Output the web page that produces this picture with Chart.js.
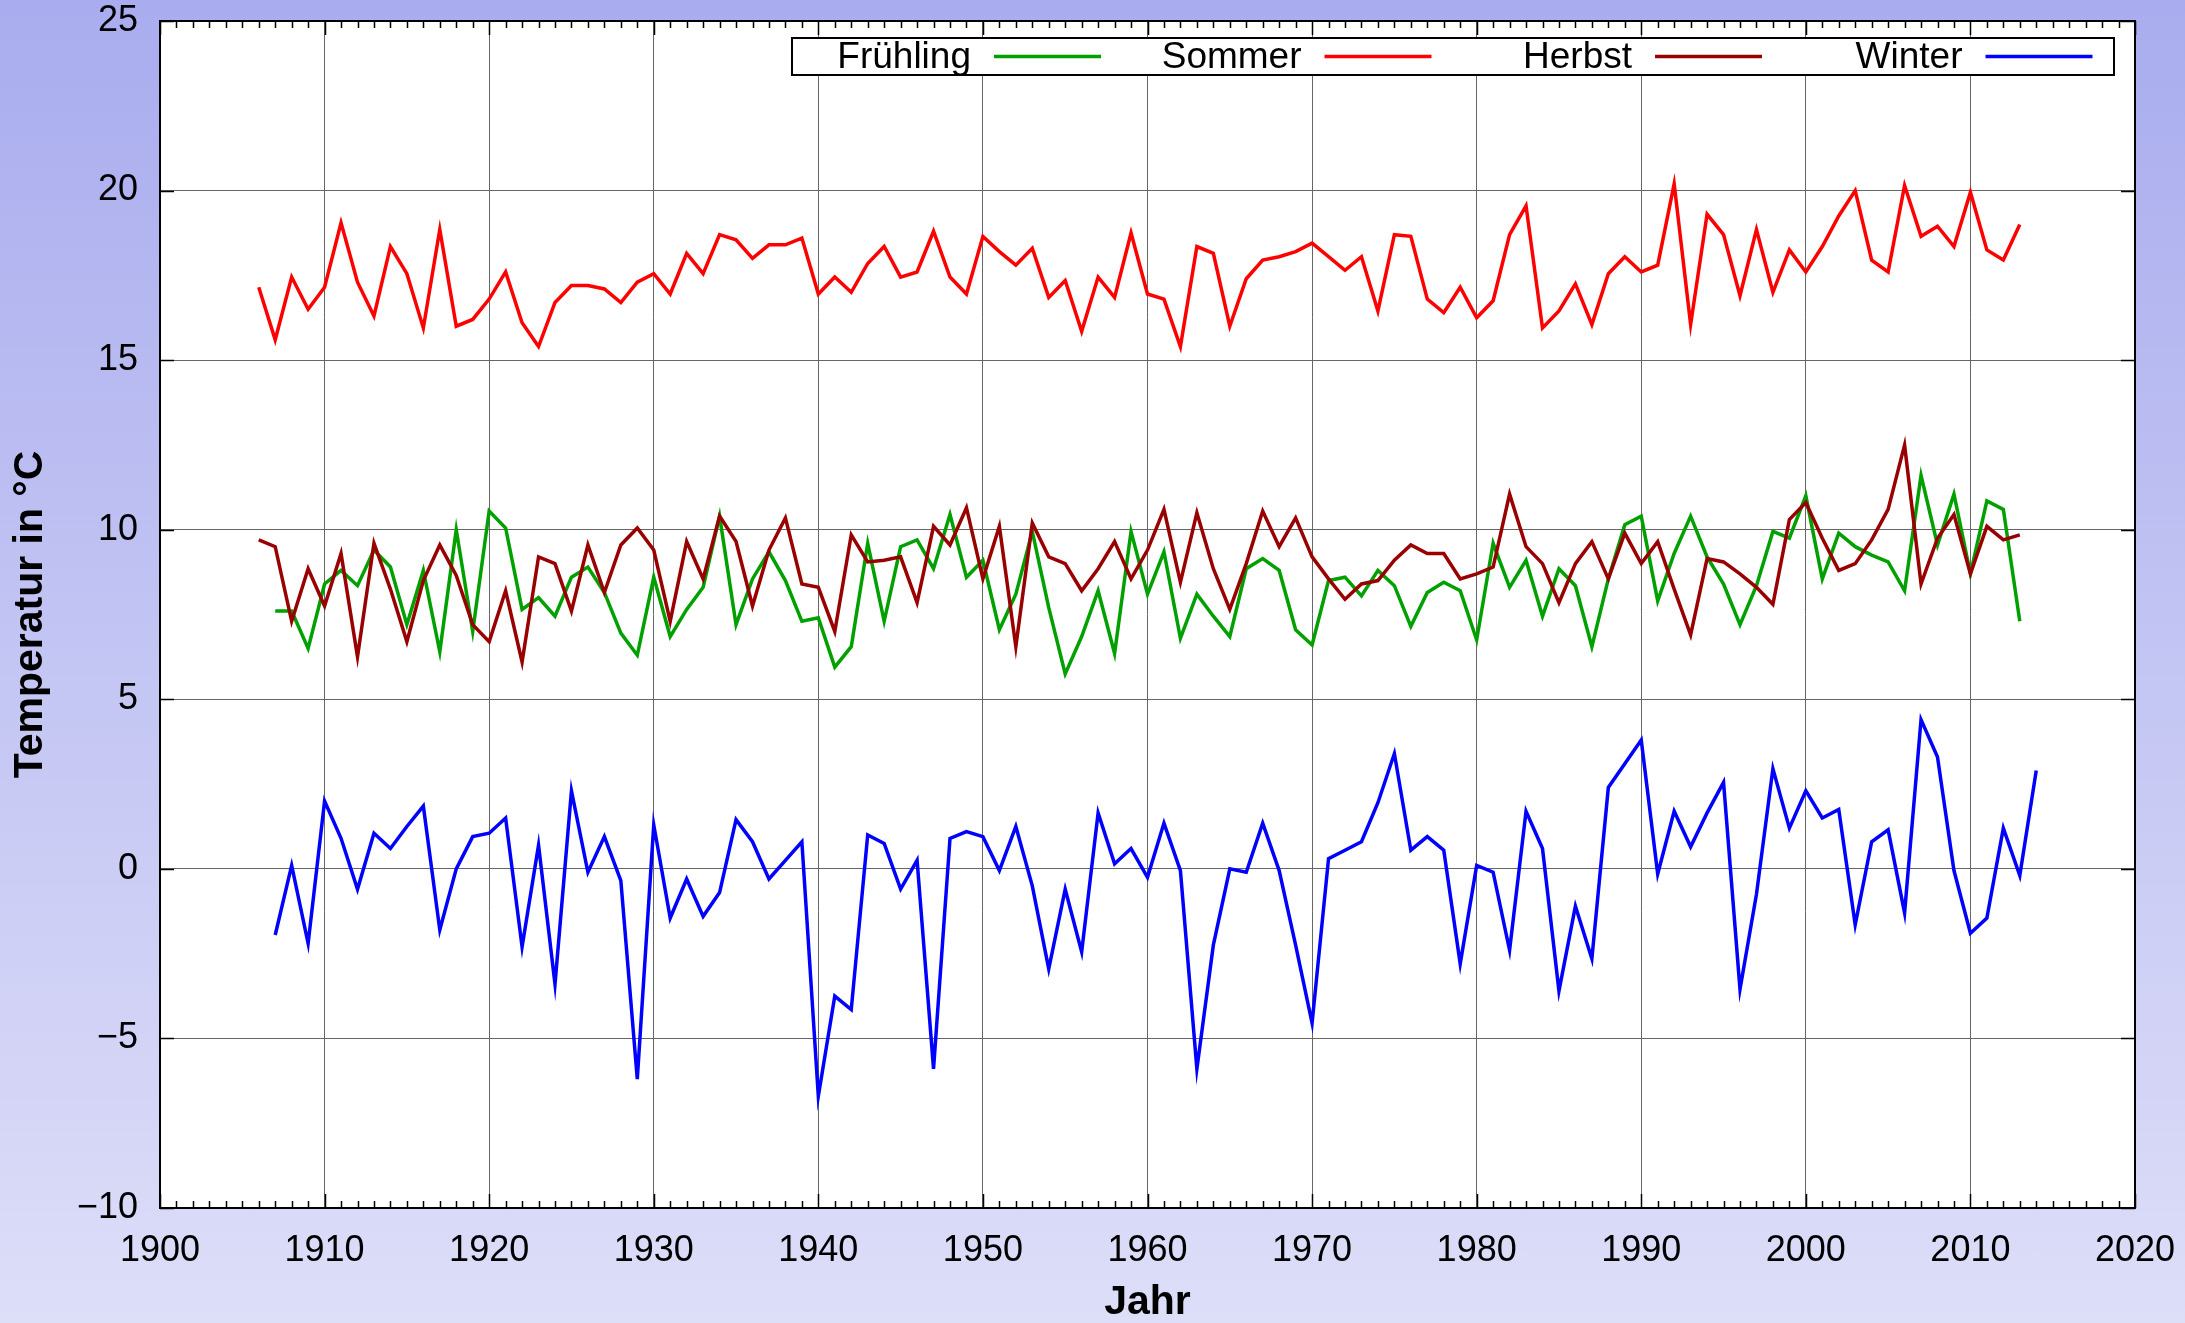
<!DOCTYPE html>
<html lang="de">
<head>
<meta charset="utf-8">
<title>Jahreszeiten-Mitteltemperaturen</title>
<script src="https://cdn.jsdelivr.net/npm/chart.js@4.4.1/dist/chart.umd.min.js"></script>
<style>
  html, body { margin: 0; padding: 0; overflow: hidden; }
  body {
    width: 2185px;
    height: 1323px;
    background: linear-gradient(to bottom, #a9acee 0%, #dddef8 100%);
  }
  #wrap { position: relative; width: 2185px; height: 1323px; }
</style>
</head>
<body>
<div id="wrap"><canvas id="chart"></canvas></div>
<script>
const years = [
  1906, 1907, 1908, 1909, 1910, 1911, 1912, 1913, 1914, 1915, 1916, 1917, 1918, 1919,
  1920, 1921, 1922, 1923, 1924, 1925, 1926, 1927, 1928, 1929, 1930, 1931, 1932, 1933,
  1934, 1935, 1936, 1937, 1938, 1939, 1940, 1941, 1942, 1943, 1944, 1945, 1946, 1947,
  1948, 1949, 1950, 1951, 1952, 1953, 1954, 1955, 1956, 1957, 1958, 1959, 1960, 1961,
  1962, 1963, 1964, 1965, 1966, 1967, 1968, 1969, 1970, 1971, 1972, 1973, 1974, 1975,
  1976, 1977, 1978, 1979, 1980, 1981, 1982, 1983, 1984, 1985, 1986, 1987, 1988, 1989,
  1990, 1991, 1992, 1993, 1994, 1995, 1996, 1997, 1998, 1999, 2000, 2001, 2002, 2003,
  2004, 2005, 2006, 2007, 2008, 2009, 2010, 2011, 2012, 2013, 2014
];

const fruehling = [
  null, 7.6, 7.6, 6.5, 8.4, 8.8, 8.35, 9.4, 8.9, 7.2, 8.8, 6.4, 10.0, 7.0,
  10.55, 10.05, 7.65, 8.0, 7.45, 8.6, 8.9, 8.15, 6.95, 6.3, 8.6, 6.85, 7.65, 8.3,
  10.4, 7.2, 8.55, 9.35, 8.5, 7.3, 7.4, 5.95, 6.55, 9.6, 7.3, 9.5, 9.7, 8.85,
  10.45, 8.6, 9.1, 7.05, 8.1, 9.95, 7.7, 5.75, 6.85, 8.2, 6.35, 9.95, 8.1, 9.35,
  6.8, 8.1, 7.45, 6.85, 8.85, 9.15, 8.8, 7.05, 6.6, 8.5, 8.6, 8.05, 8.8, 8.35,
  7.15, 8.15, 8.45, 8.2, 6.75, 9.6, 8.3, 9.1, 7.45, 8.85, 8.35, 6.55, 8.55, 10.15,
  10.4, 7.9, 9.3, 10.4, 9.2, 8.4, 7.2, 8.35, 9.95, 9.75, 11.0, 8.55, 9.9, 9.5,
  9.25, 9.05, 8.2, 11.6, 9.55, 11.05, 8.7, 10.85, 10.6, 7.3, null
];

const sommer = [
  17.15, 15.6, 17.45, 16.5, 17.15, 19.05, 17.3, 16.3, 18.35, 17.55, 15.95, 18.85, 16.0, 16.2,
  16.8, 17.6, 16.1, 15.4, 16.7, 17.2, 17.2, 17.1, 16.7, 17.3, 17.55, 16.95, 18.15, 17.55,
  18.7, 18.55, 18.0, 18.4, 18.4, 18.6, 16.95, 17.45, 17.0, 17.85, 18.35, 17.45, 17.6, 18.8,
  17.45, 16.95, 18.65, 18.2, 17.8, 18.3, 16.85, 17.35, 15.85, 17.45, 16.85, 18.75, 16.95, 16.8,
  15.4, 18.35, 18.15, 16.0, 17.4, 17.95, 18.05, 18.2, 18.45, 18.05, 17.65, 18.05, 16.45, 18.7,
  18.65, 16.8, 16.4, 17.15, 16.25, 16.75, 18.7, 19.55, 15.95, 16.45, 17.25, 16.05, 17.55, 18.05,
  17.6, 17.8, 20.2, 16.05, 19.3, 18.7, 16.9, 18.85, 17.0, 18.25, 17.6, 18.35, 19.25, 20.0,
  17.95, 17.6, 20.15, 18.65, 18.95, 18.35, 19.95, 18.25, 17.95, 19.0, null
];

const herbst = [
  9.7, 9.5, 7.3, 8.85, 7.75, 9.3, 6.25, 9.6, 8.25, 6.7, 8.5, 9.55, 8.65, 7.2,
  6.7, 8.2, 6.1, 9.2, 9.0, 7.6, 9.55, 8.15, 9.55, 10.05, 9.4, 7.3, 9.65, 8.55,
  10.4, 9.65, 7.75, 9.4, 10.35, 8.4, 8.3, 7.0, 9.85, 9.05, 9.1, 9.2, 7.85, 10.1,
  9.55, 10.65, 8.55, 10.1, 6.55, 10.2, 9.2, 9.0, 8.2, 8.85, 9.65, 8.55, 9.4, 10.6,
  8.45, 10.5, 8.85, 7.65, 9.0, 10.55, 9.5, 10.35, 9.2, 8.55, 7.95, 8.4, 8.5, 9.1,
  9.55, 9.3, 9.3, 8.55, 8.7, 8.9, 11.05, 9.5, 9.0, 7.85, 9.0, 9.65, 8.55, 9.9,
  9.0, 9.65, 8.25, 6.9, 9.15, 9.05, 8.7, 8.3, 7.8, 10.3, 10.8, 9.75, 8.8, 9.0,
  9.7, 10.6, 12.5, 8.4, 9.75, 10.45, 8.7, 10.1, 9.7, 9.85, null
];

const winter = [
  null, -1.95, 0.1, -2.2, 2.0, 0.9, -0.6, 1.05, 0.6, 1.25, 1.85, -1.8, 0.0, 0.95,
  1.05, 1.5, -2.3, 0.7, -3.4, 2.3, -0.1, 0.95, -0.35, -6.2, 1.3, -1.45, -0.3, -1.4,
  -0.7, 1.45, 0.8, -0.3, 0.25, 0.8, -6.7, -3.75, -4.15, 1.0, 0.75, -0.6, 0.25, -5.9,
  0.9, 1.1, 0.95, -0.05, 1.25, -0.5, -2.95, -0.6, -2.45, 1.65, 0.15, 0.6, -0.25, 1.35,
  -0.05, -5.9, -2.25, 0.0, -0.1, 1.35, -0.05, -2.25, -4.55, 0.3, 0.55, 0.8, 1.95, 3.4,
  0.55, 0.95, 0.55, -2.8, 0.1, -0.1, -2.4, 1.7, 0.6, -3.6, -1.1, -2.65, 2.4, 3.1,
  3.8, -0.15, 1.7, 0.65, 1.65, 2.55, -3.55, -0.75, 2.95, 1.2, 2.3, 1.5, 1.75, -1.65,
  0.8, 1.15, -1.3, 4.4, 3.3, -0.05, -1.9, -1.45, 1.2, -0.2, 2.9
];

const yearTicks = [1900, 1910, 1920, 1930, 1940, 1950, 1960, 1970, 1980, 1990, 2000, 2010, 2020];
const tempTicks = [-10, -5, 0, 5, 10, 15, 20, 25];

const FONT = '"Liberation Sans", Arial, Helvetica, sans-serif';
Chart.defaults.font.family = FONT;
Chart.defaults.color = '#000';

const series = [
  { label: 'Frühling', values: fruehling, color: '#00a000', order: 3 },
  { label: 'Sommer', values: sommer, color: '#ff0000', order: 2 },
  { label: 'Herbst', values: herbst, color: '#990000', order: 1 },
  { label: 'Winter', values: winter, color: '#0000ff', order: 0 }
];

const minus = (v) => (v < 0 ? '\u2212' + Math.abs(v) : String(v));

// gnuplot look: white plot area, inner ticks, closed frame and boxed key
const gnuplotFrame = {
  id: 'gnuplotFrame',
  beforeDraw(chart) {
    const { ctx, chartArea: a } = chart;
    ctx.save();
    ctx.fillStyle = '#fff';
    ctx.fillRect(a.left, a.top, a.right - a.left, a.bottom - a.top);
    ctx.restore();
  },
  afterDatasetsDraw(chart) {
    const { ctx, chartArea: a, scales: { x, y } } = chart;
    ctx.save();
    ctx.strokeStyle = '#000';
    ctx.lineWidth = 1.5;
    ctx.beginPath();
    for (let yr = x.min; yr <= x.max; yr++) {
      const px = Math.round(x.getPixelForValue(yr)) + 0.5;
      const len = yr % 10 === 0 ? 14 : 7;
      ctx.moveTo(px, a.bottom);
      ctx.lineTo(px, a.bottom - len);
      ctx.moveTo(px, a.top);
      ctx.lineTo(px, a.top + len);
    }
    tempTicks.forEach(v => {
      const py = Math.round(y.getPixelForValue(v)) + 0.5;
      ctx.moveTo(a.left, py);
      ctx.lineTo(a.left + 14, py);
      ctx.moveTo(a.right, py);
      ctx.lineTo(a.right - 14, py);
    });
    ctx.stroke();

    ctx.lineWidth = 2;
    ctx.strokeRect(a.left, a.top, a.right - a.left, a.bottom - a.top);

    // key box
    const box = { left: a.left + 632, top: a.top + 17, right: a.right - 21, bottom: a.top + 54 };
    const midY = (box.top + box.bottom) / 2;
    ctx.fillStyle = '#fff';
    ctx.fillRect(box.left, box.top, box.right - box.left, box.bottom - box.top);
    ctx.strokeRect(box.left, box.top, box.right - box.left, box.bottom - box.top);

    ctx.font = '37px ' + FONT;
    ctx.textAlign = 'right';
    ctx.textBaseline = 'middle';
    chart.data.datasets.forEach((ds, i) => {
      const textEnd = box.left + 179 + i * 330.5;
      ctx.fillStyle = '#000';
      ctx.fillText(ds.label, textEnd, midY + 1);
      ctx.strokeStyle = ds.borderColor;
      ctx.lineWidth = 3.5;
      ctx.beginPath();
      ctx.moveTo(textEnd + 23, midY);
      ctx.lineTo(textEnd + 130, midY);
      ctx.stroke();
    });
    ctx.restore();
  }
};

new Chart(document.getElementById('chart').getContext('2d'), {
  type: 'line',
  data: {
    datasets: series.map(s => ({
      label: s.label,
      data: years.map((yr, i) => ({ x: yr, y: s.values[i] })),
      borderColor: s.color,
      backgroundColor: s.color,
      borderWidth: 3.5,
      borderJoinStyle: 'miter',
      pointRadius: 0,
      tension: 0,
      spanGaps: false,
      order: s.order
    }))
  },
  options: {
    responsive: true,
    maintainAspectRatio: false,
    animation: false,
    layout: { padding: { top: 21, right: 50, left: 0, bottom: 0 } },
    plugins: {
      legend: { display: false },
      tooltip: { enabled: false }
    },
    scales: {
      x: {
        type: 'linear',
        min: 1900,
        max: 2020,
        afterBuildTicks: s => { s.ticks = yearTicks.map(v => ({ value: v })); },
        afterFit: s => {
          s.height = 115;
          s.paddingLeft = 0;
          s.paddingRight = 0;
        },
        grid: { color: '#666', lineWidth: 1, drawTicks: false },
        border: { display: false },
        ticks: {
          padding: 21,
          maxRotation: 0,
          font: { size: 36 },
          callback: v => String(v)
        },
        title: {
          display: true,
          text: 'Jahr',
          font: { size: 41, weight: 'bold', lineHeight: 1 },
          padding: { top: 0, bottom: 0 }
        }
      },
      y: {
        min: -10,
        max: 25,
        afterBuildTicks: s => { s.ticks = tempTicks.map(v => ({ value: v })); },
        afterFit: s => {
          s.width = 160;
          s.paddingTop = 0;
          s.paddingBottom = 0;
        },
        grid: { color: '#666', lineWidth: 1, drawTicks: false },
        border: { display: false },
        ticks: {
          padding: 22,
          font: { size: 36 },
          callback: v => minus(v)
        },
        title: {
          display: true,
          text: 'Temperatur in °C',
          font: { size: 41, weight: 'bold', lineHeight: 1 },
          padding: { top: 10, bottom: 0 }
        }
      }
    }
  },
  plugins: [gnuplotFrame]
});
</script>
</body>
</html>
